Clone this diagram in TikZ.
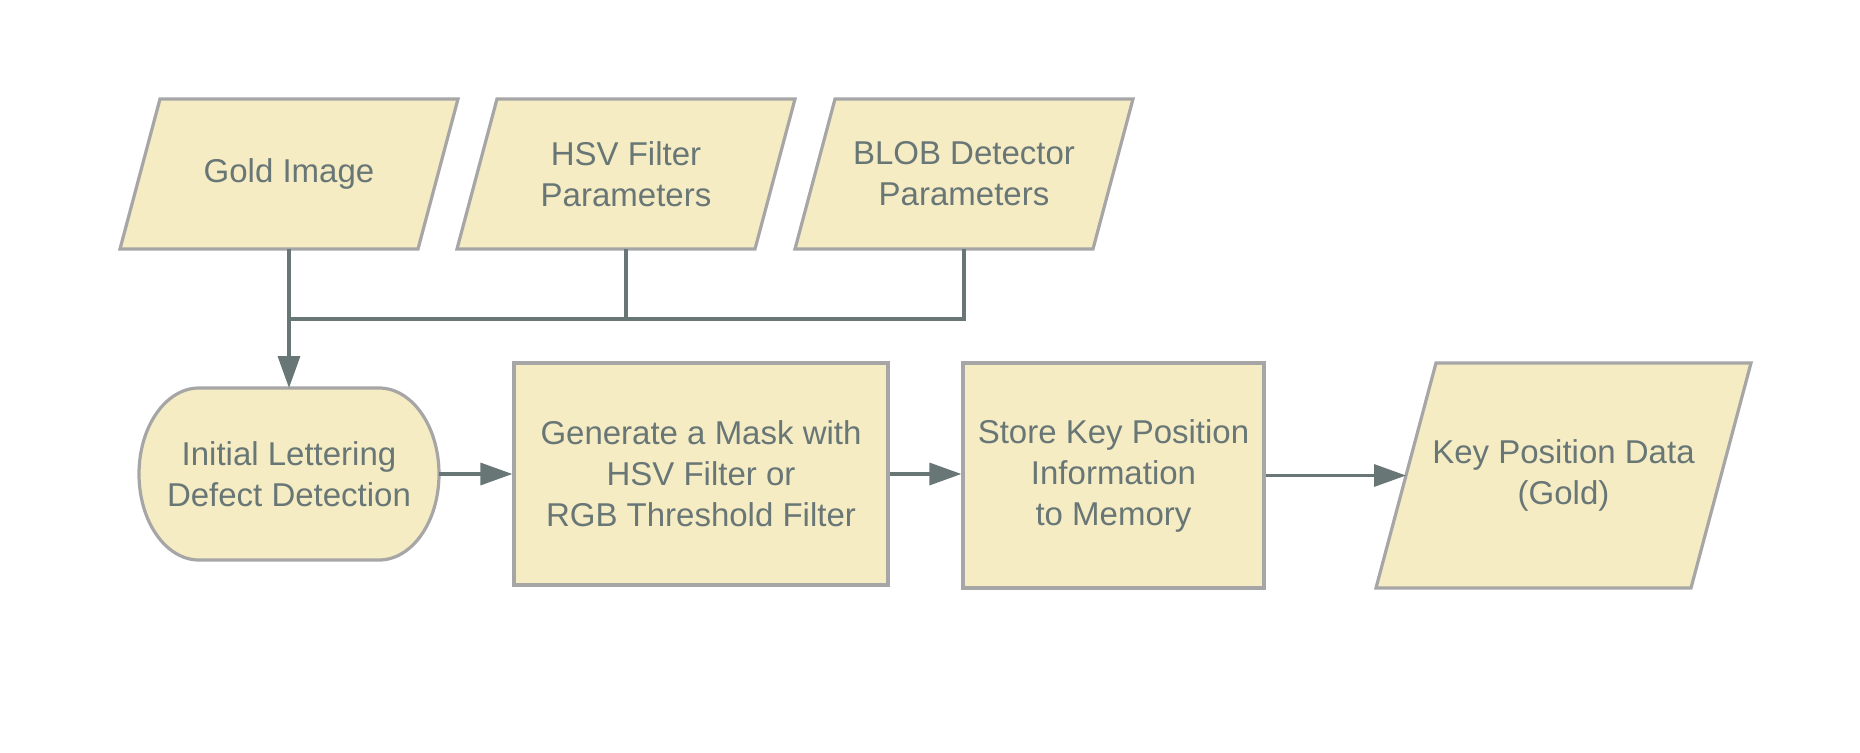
\documentclass[tikz,border=0pt]{standalone}
\usepackage{fontspec}
\setmainfont{Liberation Sans}
\usetikzlibrary{arrows.meta, backgrounds}
\definecolor{boxfill}{RGB}{245,236,196}
\definecolor{boxline}{RGB}{166,166,166}
\definecolor{ink}{RGB}{104,118,118}
\tikzstyle{base} = [align=center, text=ink, font=\fontsize{16.5}{20.5}\selectfont, line width=1.6pt]
\tikzstyle{io} = [base, rectangle, outer sep=0pt]
\tikzstyle{process} = [base, rectangle, draw=boxline, fill=boxfill]
\tikzstyle{terminal} = [base, rectangle, outer sep=0pt, minimum width=150pt, minimum height=86pt]
\tikzstyle{outline} = [draw=boxline, fill=boxfill, line width=1.6pt]
\tikzstyle{link} = [draw=ink, line width=1.7pt]
\tikzstyle{flow} = [link, -{Triangle[length=16pt, width=11pt]}]
% parallelogram behind an io node: node name, half of the slant
\newcommand{\ioshape}[2]{\draw[outline] ([xshift=#2]#1.north west) -- ([xshift=#2]#1.north east) -- ([xshift=-#2]#1.south east) -- ([xshift=-#2]#1.south west) -- cycle;}

\begin{document}
\begin{tikzpicture}[x=1pt, y=1pt]
  \useasboundingbox (0,0) rectangle (930,376);

  % inputs
  \node[io, minimum width=149pt, minimum height=75pt] (gold) at (144.5,289) {Gold Image};
  \node[io, minimum width=149pt, minimum height=75pt] (hsv) at (313,289) {HSV Filter\\Parameters};
  \node[io, minimum width=149pt, minimum height=75pt] (blob) at (482,289) {BLOB Detector\\Parameters};

  % main flow
  \node[terminal] (detect) at (144.5,139) {Initial Lettering\\Defect Detection};
  \node[process, minimum width=187pt, minimum height=111pt] (mask) at (350.5,139) {Generate a Mask with\\HSV Filter or\\RGB Threshold Filter};
  \node[process, minimum width=150.5pt, minimum height=112.5pt] (store) at (556.75,138.25) {Store Key Position\\Information\\to Memory};
  \node[io, minimum width=157.5pt, minimum height=112.5pt] (keypos) at (781.75,138.25) {Key Position Data\\(Gold)};
  \coordinate (merge) at (144.5,216.5);

  % shapes behind the text
  \begin{scope}[on background layer]
    \ioshape{gold}{10pt}
    \ioshape{hsv}{10pt}
    \ioshape{blob}{10pt}
    \ioshape{keypos}{15pt}
    \draw[outline]
      ([xshift=30pt]detect.north west) -- ([xshift=-30pt]detect.north east)
      arc[start angle=90, end angle=-90, x radius=30pt, y radius=43pt]
      -- ([xshift=30pt]detect.south west)
      arc[start angle=270, end angle=90, x radius=30pt, y radius=43pt] -- cycle;
  \end{scope}

  % inputs merge
  \draw[link] (gold.south) -- (gold.south |- merge) -- (blob.south |- merge) -- (blob.south);
  \draw[link] (hsv.south) -- (hsv.south |- merge);
  \draw[flow] (merge) -- (detect.north);

  % steps
  \draw[flow] (detect) -- (mask);
  \draw[flow] (mask.east) -- (mask.east -| store.west);
  \draw[flow] (store.east) -- (keypos.west);
\end{tikzpicture}
\end{document}
